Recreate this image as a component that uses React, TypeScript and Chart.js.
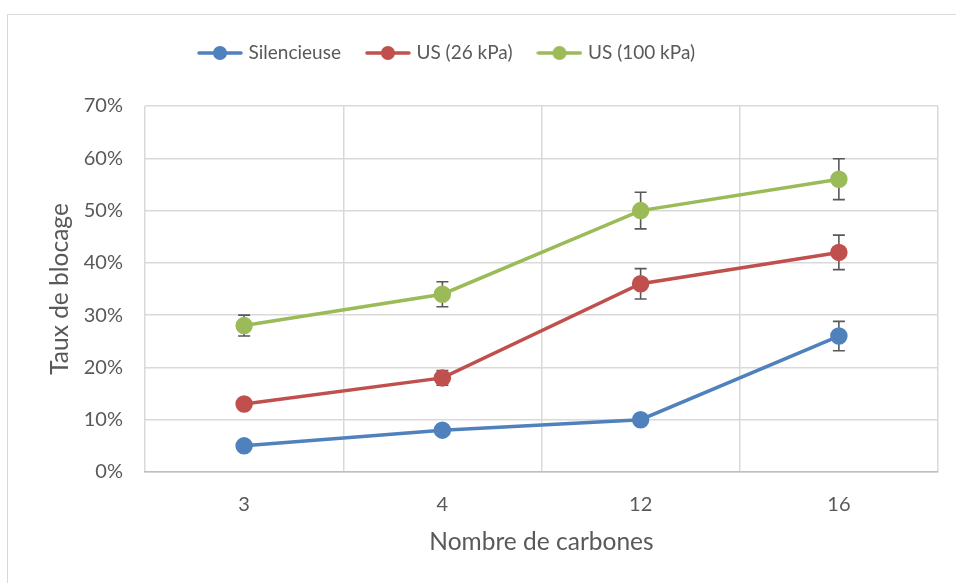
import React, { useEffect, useRef } from "react";
import { Chart, registerables } from "chart.js";

Chart.register(...registerables);

const categories = ["3", "4", "12", "16"];
const silencieuse = [0.05, 0.08, 0.1, 0.26];
const silencieuseErr = [0.003, 0.004, 0.004, 0.028];
const us26 = [0.13, 0.18, 0.36, 0.42];
const us26Err = [0.004, 0.014, 0.029, 0.033];
const us100 = [0.28, 0.34, 0.5, 0.56];
const us100Err = [0.02, 0.024, 0.035, 0.039];
const seriesNames = ["Silencieuse", "US (26 kPa)", "US (100 kPa)"];
const colors = ["#4F81BD", "#C0504D", "#9BBB59"];

const FONT = "Lato, 'Open Sans', sans-serif";
const TEXT = "#595959";

function makeIcon(color: string) {
  const c = document.createElement("canvas");
  c.width = 46;
  c.height = 16;
  const ctx = c.getContext("2d")!;
  ctx.strokeStyle = color;
  ctx.lineWidth = 3.5;
  ctx.lineCap = "round";
  ctx.beginPath();
  ctx.moveTo(2, 8);
  ctx.lineTo(44, 8);
  ctx.stroke();
  ctx.fillStyle = color;
  ctx.beginPath();
  ctx.arc(23, 8, 7, 0, Math.PI * 2);
  ctx.fill();
  return c;
}

const errorBarPlugin = {
  id: "errorBars",
  beforeDatasetDraw(chart: any, args: any) {
    const ds = chart.data.datasets[args.index];
    const errs: number[] = ds.errors || [];
    const meta = chart.getDatasetMeta(args.index);
    const y = chart.scales.y;
    const ctx = chart.ctx;
    ctx.save();
    ctx.strokeStyle = "#595959";
    ctx.lineWidth = 1.6;
    meta.data.forEach((pt: any, i: number) => {
      const v = ds.data[i];
      const e = errs[i] || 0;
      const yt = y.getPixelForValue(v + e);
      const yb = y.getPixelForValue(v - e);
      const x = pt.x;
      ctx.beginPath();
      ctx.moveTo(x, yt);
      ctx.lineTo(x, yb);
      ctx.moveTo(x - 6, yt);
      ctx.lineTo(x + 6, yt);
      ctx.moveTo(x - 6, yb);
      ctx.lineTo(x + 6, yb);
      ctx.stroke();
    });
    ctx.restore();
  },
};

const legendPlacePlugin = {
  id: "legendPlace",
  afterLayout(chart: any) {
    const lg = chart.legend;
    if (!lg) return;
    const pad = 28;
    const w = lg.right - lg.left;
    lg.left = 201 - pad;
    lg.right = lg.left + w;
    const h = lg.bottom - lg.top;
    lg.top = 53 - pad - 9.5;
    lg.bottom = lg.top + h;
  },
};

export default function App() {
  const ref = useRef<HTMLCanvasElement>(null);
  useEffect(() => {
    const icons = colors.map(makeIcon);
    const datasets = [
      { label: seriesNames[0], data: silencieuse, errors: silencieuseErr },
      { label: seriesNames[1], data: us26, errors: us26Err },
      { label: seriesNames[2], data: us100, errors: us100Err },
    ].map((d, i) => ({
      ...d,
      borderColor: colors[i],
      backgroundColor: colors[i],
      pointBackgroundColor: colors[i],
      pointBorderColor: colors[i],
      pointRadius: 7,
      pointHoverRadius: 7,
      borderWidth: 3.5,
      tension: 0,
    }));
    const chart = new Chart(ref.current!, {
      type: "line",
      data: { labels: categories, datasets: datasets as any },
      options: {
        animation: false,
        responsive: false,
        layout: { padding: { left: 0, right: 18, top: 49, bottom: 0 } },
        plugins: {
          tooltip: { enabled: false },
          legend: {
            position: "top",
            align: "start",
            labels: {
              usePointStyle: true,
              pointStyleWidth: 38,
              padding: 28,
              color: TEXT,
              font: { family: FONT, size: 19 },
              generateLabels: (c: any) =>
                c.data.datasets.map((ds: any, i: number) => ({
                  text: ds.label,
                  pointStyle: icons[i],
                  fillStyle: colors[i],
                  strokeStyle: colors[i],
                  lineWidth: 0,
                  fontColor: TEXT,
                  datasetIndex: i,
                  hidden: false,
                })),
            },
          },
        },
        scales: {
          x: {
            offset: true,
            grid: { offset: true, color: "#d9d9d9", lineWidth: 1.5, drawTicks: false },
            border: { color: "#bfbfbf", width: 1.5 },
            ticks: { color: TEXT, font: { family: FONT, size: 20 }, padding: 21 },
            title: {
              display: true,
              text: "Nombre de carbones",
              color: TEXT,
              font: { family: FONT, size: 24.5 },
              padding: { top: 0, bottom: 26 },
            },
            afterFit: (s: any) => {
              s.height = 111;
            },
          },
          y: {
            min: 0,
            max: 0.7,
            ticks: {
              stepSize: 0.1,
              color: TEXT,
              font: { family: FONT, size: 20 },
              padding: 22,
              callback: (v: any) => Math.round(Number(v) * 100) + "%",
            },
            grid: { color: "#d9d9d9", lineWidth: 1.5, drawTicks: false },
            border: { display: false },
            title: {
              display: true,
              text: "Taux de blocage",
              color: TEXT,
              font: { family: FONT, size: 24.5 },
              padding: { top: 45, bottom: 0 },
            },
            afterFit: (s: any) => {
              s.width = 145;
            },
          },
        },
      },
      plugins: [errorBarPlugin, legendPlacePlugin],
    });
    return () => chart.destroy();
  }, []);
  return (
    <div style={{ position: "fixed", left: 0, top: 0, width: 956, height: 583, background: "#fff", overflow: "hidden" }}>
      <div
        style={{
          position: "absolute",
          left: 7,
          top: 14,
          width: 1000,
          height: 1000,
          border: "1px solid #d9d9d9",
        }}
      />
      <canvas ref={ref} width={956} height={583} style={{ position: "absolute", left: 0, top: 0, width: 956, height: 583 }} />
    </div>
  );
}
